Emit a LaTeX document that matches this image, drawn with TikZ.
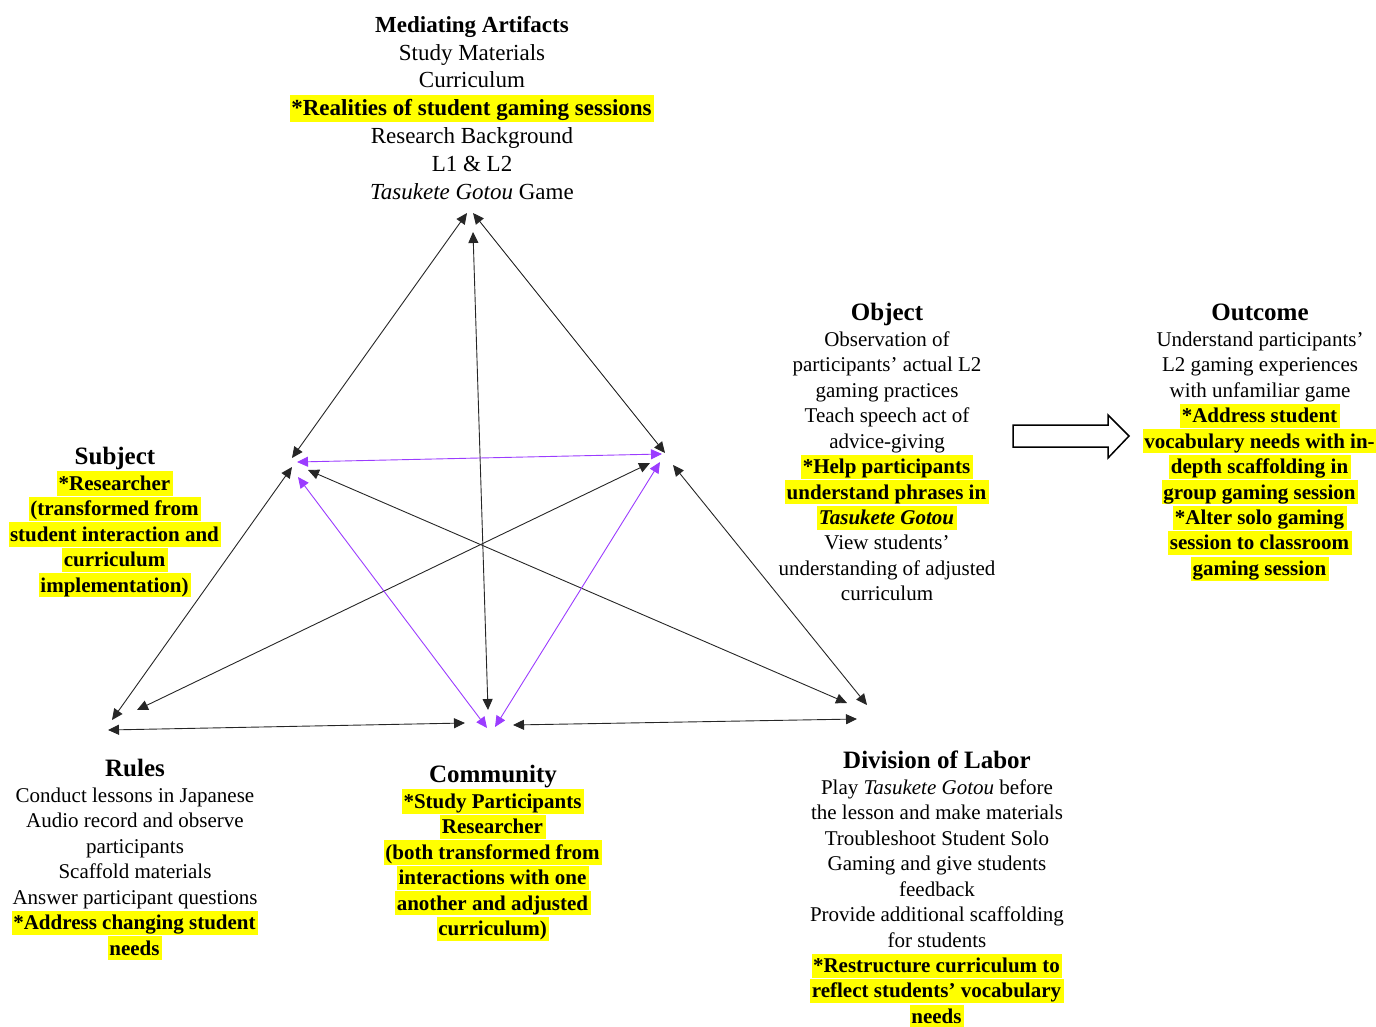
\documentclass[tikz,border=0pt]{standalone}
\usepackage{fontspec}
\setmainfont{Liberation Serif}
\usetikzlibrary{arrows.meta}
\definecolor{purp}{RGB}{155,60,255}
\definecolor{hly}{RGB}{255,255,0}
\newcommand\hlt[1]{{\setlength{\fboxsep}{0pt}\colorbox{hly}{\hspace{1.5pt}\rule[-0.25em]{0pt}{1.15em}#1\hspace{2.5pt}}}}
\newcommand\hd[1]{{\fontsize{25}{26}\selectfont\bfseries\rule{0pt}{22.3pt}#1}\\[0.7pt]}
\begin{document}
\begin{tikzpicture}[x=1pt,y=-1pt,
  blk/.style={align=center, inner sep=0pt, anchor=north, font=\fontsize{21}{25.45}\selectfont},
  arr/.style={{Triangle[length=11pt,width=10pt]}-{Triangle[length=11pt,width=10pt]}, line width=0.9pt, draw=black!85},
  parr/.style={arr, draw=purp}]
\useasboundingbox (0,0) rectangle (1376,1027);

% text blocks
\node[blk, font=\fontsize{23}{27.9}\selectfont] (ma) at (472,11.5)
  {\rule{0pt}{20.5pt}\textbf{Mediating Artifacts}\\ Study Materials\\ Curriculum\\
   \hlt{\textbf{*Realities of student gaming sessions}}\\ Research Background\\ L1 \& L2\\
   \textit{Tasukete Gotou} Game};

\node[blk] (obj) at (887,297.7)
  {\hd{Object}Observation of\\ participants’ actual L2\\ gaming practices\\ Teach speech act of\\
   advice-giving\\ \hlt{\textbf{*Help participants}}\\ \hlt{\textbf{understand phrases in}}\\
   \hlt{\textbf{\textit{Tasukete Gotou}}}\\ View students’\\ understanding of adjusted\\ curriculum};

\node[blk] (out) at (1260,297.7)
  {\hd{Outcome}Understand participants’\\ L2 gaming experiences\\ with unfamiliar game\\
   \hlt{\textbf{*Address student}}\\ \hlt{\textbf{vocabulary needs with in-}}\\
   \hlt{\textbf{depth scaffolding in}}\\ \hlt{\textbf{group gaming session}}\\
   \hlt{\textbf{*Alter solo gaming}}\\ \hlt{\textbf{session to classroom}}\\ \hlt{\textbf{gaming session}}};

\node[blk] (subj) at (115,441.7)
  {\hd{Subject}\hlt{\textbf{*Researcher}}\\ \hlt{\textbf{(transformed from}}\\
   \hlt{\textbf{student interaction and}}\\ \hlt{\textbf{curriculum}}\\ \hlt{\textbf{implementation)}}};

\node[blk] (rules) at (135,753.7)
  {\hd{Rules}Conduct lessons in Japanese\\ Audio record and observe\\ participants\\
   Scaffold materials\\ Answer participant questions\\ \hlt{\textbf{*Address changing student}}\\
   \hlt{\textbf{needs}}};

\node[blk] (comm) at (493,759.7)
  {\hd{Community}\hlt{\textbf{*Study Participants}}\\ \hlt{\textbf{Researcher}}\\
   \hlt{\textbf{(both transformed from}}\\ \hlt{\textbf{interactions with one}}\\
   \hlt{\textbf{another and adjusted}}\\ \hlt{\textbf{curriculum)}}};

\node[blk] (div) at (937,745.7)
  {\hd{Division of Labor}Play \textit{Tasukete Gotou} before\\ the lesson and make materials\\
   Troubleshoot Student Solo\\ Gaming and give students\\ feedback\\
   Provide additional scaffolding\\ for students\\ \hlt{\textbf{*Restructure curriculum to}}\\
   \hlt{\textbf{reflect students’ vocabulary}}\\ \hlt{\textbf{needs}}};

% arrow end points
\coordinate (a1s) at (467,213); \coordinate (a1e) at (292,458);
\coordinate (a2s) at (473,213); \coordinate (a2e) at (665,453);
\coordinate (a3s) at (473,232); \coordinate (a3e) at (488,710);
\coordinate (a4s) at (297,462); \coordinate (a4e) at (662,454);
\coordinate (a5s) at (292,467); \coordinate (a5e) at (112,720);
\coordinate (a6s) at (308,470); \coordinate (a6e) at (847,703);
\coordinate (a7s) at (650,463); \coordinate (a7e) at (137,710);
\coordinate (a8s) at (298,477); \coordinate (a8e) at (487,728);
\coordinate (a9s) at (660,462); \coordinate (a9e) at (495,727);
\coordinate (a10s) at (673,465); \coordinate (a10e) at (867,705);
\coordinate (a11s) at (108,730); \coordinate (a11e) at (465,723);
\coordinate (a12s) at (513,725); \coordinate (a12e) at (857,719);

\draw[arr] (a1s) -- (a1e);
\draw[arr] (a2s) -- (a2e);
\draw[arr] (a3s) -- (a3e);
\draw[parr] (a4s) -- (a4e);
\draw[arr] (a5s) -- (a5e);
\draw[arr] (a6s) -- (a6e);
\draw[arr] (a7s) -- (a7e);
\draw[parr] (a8s) -- (a8e);
\draw[parr] (a9s) -- (a9e);
\draw[arr] (a10s) -- (a10e);
\draw[arr] (a11s) -- (a11e);
\draw[arr] (a12s) -- (a12e);

% block arrow from Object to Outcome
\draw[line width=1.5pt, line join=miter] (1013,425) -- (1108,425) -- (1108,415) -- (1129,436)
  -- (1108,458) -- (1108,447) -- (1013,447) -- cycle;
\end{tikzpicture}
\end{document}
